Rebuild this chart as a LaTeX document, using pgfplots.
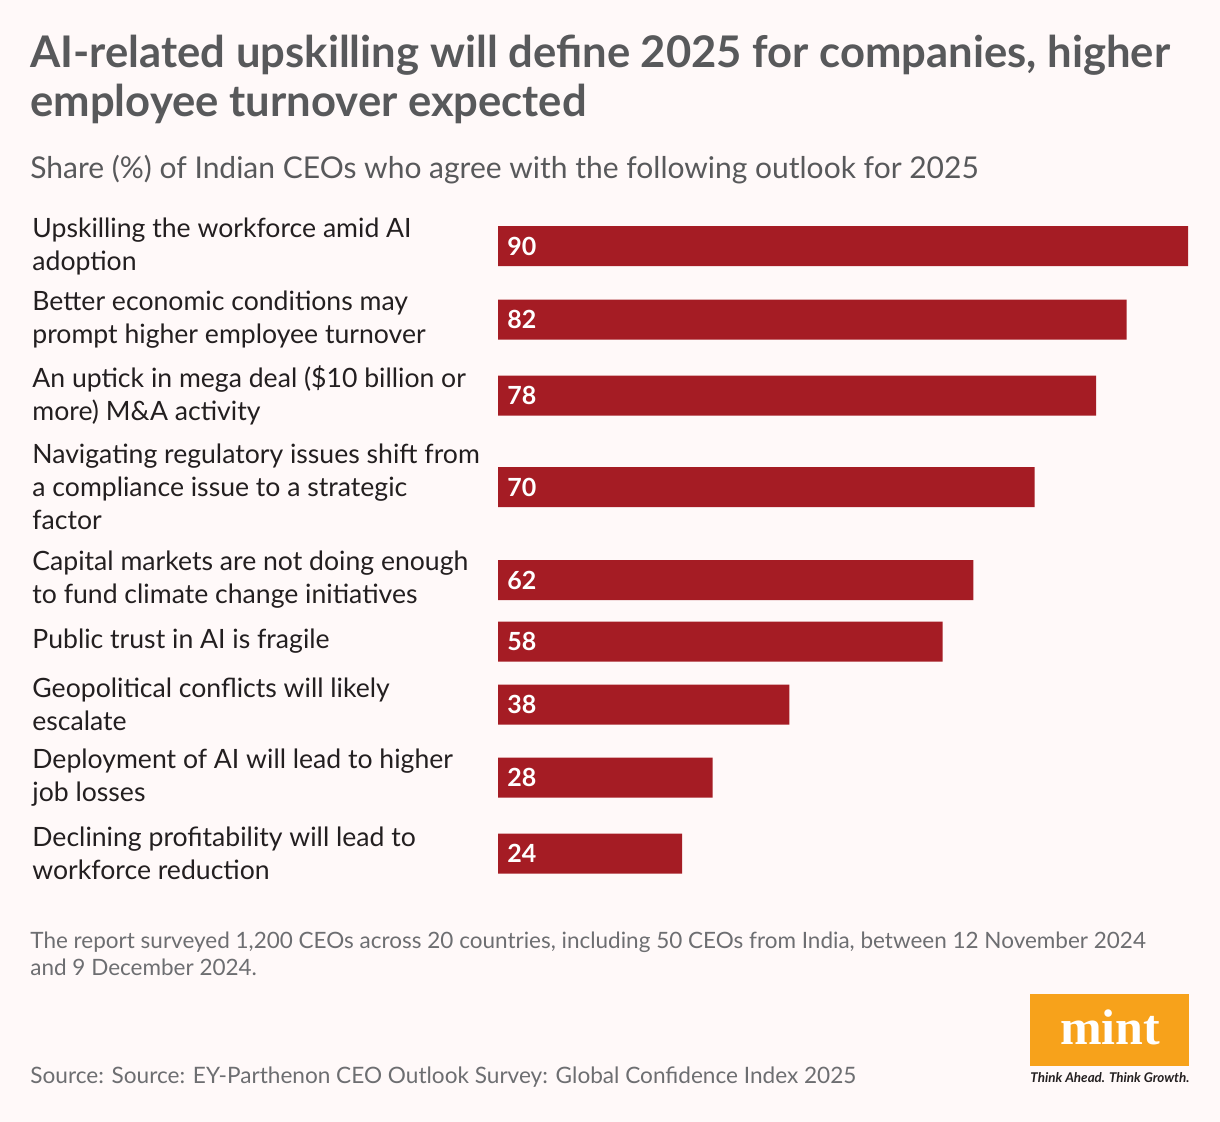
\documentclass[border=0pt]{standalone}
\usepackage{pgfplots}
\usepackage{pgfplotstable}
\pgfplotsset{compat=1.18}
\usepackage{fontspec}
\setmainfont{Lato}
\newfontfamily\logofont{Liberation Serif}

\definecolor{bgcol}{HTML}{FFF9F9}
\definecolor{barred}{HTML}{A51C24}
\definecolor{titlegray}{HTML}{58595B}
\definecolor{labelcol}{HTML}{231F20}
\definecolor{notegray}{HTML}{6D6E71}
\definecolor{mintorange}{HTML}{F7A21B}

% y = bar centre in pixels of the 1220x1122 canvas
\pgfplotstableread{
y     v
246   90
319.5 82
395.5 78
487   70
580   62
641.5 58
704.5 38
777.5 28
853.5 24
}\ceodata

\begin{document}
\begin{tikzpicture}
  % canvas: 1 px = 0.5pt
  \fill[bgcol] (0,0) rectangle (610pt,-561pt);

  \node[anchor=base west, inner sep=0, text=titlegray, font=\fontsize{21.8}{24}\selectfont\bfseries]
    at (15pt,-34pt) {AI-related upskilling will define 2025 for companies, higher};
  \node[anchor=base west, inner sep=0, text=titlegray, font=\fontsize{21.8}{24}\selectfont\bfseries]
    at (15pt,-58.5pt) {employee turnover expected};
  \node[anchor=base west, inner sep=0, text=titlegray, font=\fontsize{15}{17}\selectfont]
    at (15pt,-89.5pt) {Share (\%) of Indian CEOs who agree with the following outlook for 2025};

  \begin{axis}[
    at={(249pt,-450pt)}, anchor=south west,
    scale only axis,
    width=345pt, height=350pt,
    xmin=0, xmax=90,
    ymin=200, ymax=900,
    y dir=reverse,
    xbar, bar width=20pt, bar shift=0pt,
    axis line style={draw=none},
    tick style={draw=none},
    major tick length=0pt,
    xtick=\empty,
    ytick={246,319.5,395.5,487,580,641.5,704.5,777.5,853.5},
    yticklabels={
      {Upskilling the workforce amid AI\\adoption},
      {Better economic conditions may\\prompt higher employee turnover},
      {An uptick in mega deal (\$10 billion or\\more) M\&A activity},
      {Navigating regulatory issues shift from\\a compliance issue to a strategic\\factor},
      {Capital markets are not doing enough\\to fund climate change initiatives},
      {Public trust in AI is fragile},
      {Geopolitical conflicts will likely\\escalate},
      {Deployment of AI will lead to higher\\job losses},
      {Declining profitability will lead to\\workforce reduction}
    },
    yticklabel style={anchor=west, inner sep=0pt, xshift=-233pt, align=left,
      text=labelcol, font=\fontsize{13.3}{16.5}\selectfont},
    clip=false,
  ]
    \addplot[fill=barred, draw=none] table[x=v, y=y] {\ceodata};
    \addplot[fill=none, draw=none,
      nodes near coords, point meta=explicit symbolic,
      every node near coord/.style={anchor=west, xshift=4.5pt, inner sep=0pt,
        text=white, font=\fontsize{12.5}{14}\selectfont\bfseries}]
      table[x expr=0, y=y, meta=v] {\ceodata};
  \end{axis}

  \node[anchor=base west, inner sep=0, text=notegray, font=\fontsize{11.25}{13}\selectfont]
    at (15pt,-474pt) {The report surveyed 1,200 CEOs across 20 countries, including 50 CEOs from India, between 12 November 2024};
  \node[anchor=base west, inner sep=0, text=notegray, font=\fontsize{11.25}{13}\selectfont]
    at (15pt,-487.5pt) {and 9 December 2024.};
  \node[anchor=base west, inner sep=0, text=notegray, font=\fontsize{11.3}{13}\selectfont]
    at (15pt,-541.5pt) {Source: Source: EY-Parthenon CEO Outlook Survey: Global Confidence Index 2025};

  % mint logo
  \fill[mintorange] (515pt,-497pt) rectangle (594.5pt,-533pt);
  \node[anchor=base, inner sep=0, text=white, font=\logofont\fontsize{25}{25}\selectfont\bfseries]
    at (555pt,-522pt) {mint};
  \node[anchor=base, inner sep=0, text=labelcol, font=\fontsize{6.7}{7}\selectfont\bfseries\itshape]
    at (555pt,-541pt) {Think Ahead. Think Growth.};
\end{tikzpicture}
\end{document}
